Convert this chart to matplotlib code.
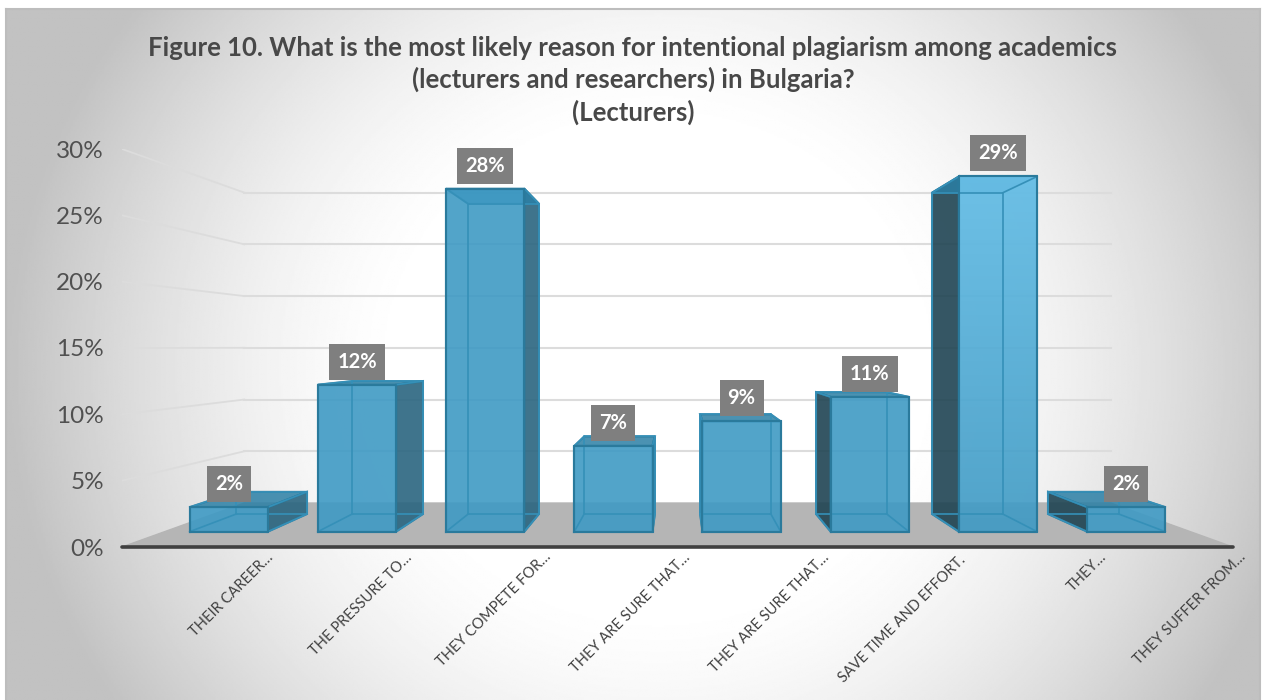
import matplotlib
matplotlib.use("Agg")
import matplotlib.pyplot as plt
from matplotlib.transforms import ScaledTranslation
import numpy as np

plt.rcParams['font.family'] = ['Lato', 'DejaVu Sans']

labels = ["THEIR CAREER…", "THE PRESSURE TO…", "THEY COMPETE FOR…", "THEY ARE SURE THAT…",
          "THEY ARE SURE THAT…", "SAVE TIME AND EFFORT. ", "THEY…", "THEY SUFFER FROM…"]
values = [2, 12, 28, 7, 9, 11, 29, 2]
y_ticks = [0, 5, 10, 15, 20, 25, 30]

W, H = 1263, 700
# perspective: depth 1 = front of the floor, smaller = further back
VP_X, VP_Y = 3.5, 15.07
WALL, BAR_FRONT, BAR_BACK = 0.78, 0.923, 0.835
HALF_W = 0.305
BLUE = "#3f9ac4"
EDGE = "#2a7a9c"
INNER = "#3590b8"


def project(x, depth, v):
    return VP_X + (x - VP_X) * depth, VP_Y + (v - VP_Y) * depth


def face(ax, pts, color, alpha, z, edge=EDGE):
    xy = [project(*p) for p in pts]
    ax.fill(*zip(*xy), facecolor=color, edgecolor=edge, alpha=alpha, lw=1.5, zorder=z, clip_on=False)


def outline(ax, pts, color, z, lw=1.2):
    xy = [project(*p) for p in pts]
    ax.plot(*zip(*xy), color=color, lw=lw, zorder=z, clip_on=False)


fig = plt.figure(figsize=(W / 100, H / 100), dpi=100)

# background gradient
bg = fig.add_axes([6 / W, 0, (1260 - 6) / W, 1 - 9 / H])
bg.set_xticks([])
bg.set_yticks([])
for side in ["top", "left", "right"]:
    bg.spines[side].set_color("#bdbdbd")
    bg.spines[side].set_linewidth(1.5)
bg.spines["bottom"].set_visible(False)
yy, xx = np.mgrid[0:1:400j, 0:1:700j]
dist = np.sqrt(((xx - 0.52) / 0.5) ** 2 + ((yy - 0.52) / 0.85) ** 2)
shade = np.clip(1.0 - 0.47 * np.clip(dist - 0.4, 0, None) ** 1.5, 0.76, 1)
bg.imshow(shade, cmap="gray", vmin=0, vmax=1, aspect="auto", origin="upper")

ax = fig.add_axes([122 / W, 1 - 547 / H, (1233 - 122) / W, (547 - 149) / H])
ax.patch.set_alpha(0)
for sp in ax.spines.values():
    sp.set_visible(False)

# floor
floor_xy = [project(-0.5, 1, 0), project(7.5, 1, 0), project(7.5, WALL, 0), project(-0.5, WALL, 0)]
ax.fill(*zip(*floor_xy), color="#b5b5b5", zorder=1)
ax.plot([-0.5, 7.5], [0, 0], color="#404040", lw=2.6, solid_capstyle="round", zorder=2, clip_on=False)

# gridlines on the back and the left wall
for v in y_ticks[1:]:
    p0 = project(-0.5, 1, v)
    p1 = project(-0.5, WALL, v)
    p2 = project(7.5, WALL, v)
    ax.plot([p0[0], p1[0]], [p0[1], p1[1]], color="#dcdcdc", lw=1.3, zorder=1)
    ax.plot([p1[0], p2[0]], [p1[1], p2[1]], color="#dcdcdc", lw=1.5, zorder=1)

# bars, back to front
for i, v in enumerate(values):
    l, r = i - HALF_W, i + HALF_W
    f, b = BAR_FRONT, BAR_BACK
    if r < VP_X:
        face(ax, [(r, f, 0), (r, b, 0), (r, b, v), (r, f, v)], "#2a6580", 0.9, 4)
    elif l > VP_X:
        face(ax, [(l, f, 0), (l, b, 0), (l, b, v), (l, f, v)], "#1f4453", 0.9, 4)
    face(ax, [(l, f, v), (r, f, v), (r, b, v), (l, b, v)], "#2b7fa5", 0.85, 4)
    face(ax, [(l, f, 0), (r, f, 0), (r, f, v), (l, f, v)], BLUE, 0.9, 5)

    # the tallest bar is lit from above
    if v == max(values):
        x0, y0 = project(l, f, v)
        x1, y1 = project(r, f, 0)
        glow = np.zeros((100, 2, 4))
        glow[..., :3] = matplotlib.colors.to_rgb("#80d4fa")
        glow[..., 3] = np.linspace(0.6, 0, 100)[:, None]
        ax.imshow(glow, extent=(x0, x1, y1, y0), aspect="auto", origin="upper", zorder=5.1)

    # edges that show through the front
    outline(ax, [(l, b, 0), (r, b, 0), (r, b, v), (l, b, v), (l, b, 0)], INNER, 5.2)
    outline(ax, [(l, f, 0), (l, b, 0)], INNER, 5.2)
    outline(ax, [(r, f, 0), (r, b, 0)], INNER, 5.2)
    outline(ax, [(l, f, v), (l, b, v)], INNER, 5.2)
    outline(ax, [(r, f, v), (r, b, v)], INNER, 5.2)
    outline(ax, [(l, f, 0), (r, f, 0), (r, f, v), (l, f, v), (l, f, 0)], EDGE, 5.3, lw=1.5)

    ax.annotate("%d%%" % v, project(i, BAR_FRONT, v), xytext=(0, 16.6), textcoords="offset points",
                ha="center", va="center", color="white", fontsize=14.5, fontweight="bold", zorder=7,
                bbox=dict(boxstyle="square,pad=0.4", facecolor="#7f7f7f", edgecolor="none"))

ax.set_yticks(y_ticks, ["%d%%" % v for v in y_ticks])
ax.set_xticks(np.arange(8), labels, rotation=45, ha="right", rotation_mode="anchor")
ax.tick_params(axis="y", length=0, pad=13, labelsize=17.5, labelcolor="#505050")
ax.tick_params(axis="x", length=0, pad=2.2, labelsize=10.5, labelcolor="#404040")
ax.set_xlim(-0.5, 7.5)
ax.set_ylim(0, 30)

# category labels end to the right of their bar
shift = ScaledTranslation(75 / 100, 0, fig.dpi_scale_trans)
for lab in ax.get_xticklabels():
    lab.set_transform(lab.get_transform() + shift)

fig.text(633 / W, 1 - 36 / H,
         "Figure 10. What is the most likely reason for intentional plagiarism among academics\n"
         "(lecturers and researchers) in Bulgaria?\n(Lecturers)",
         ha="center", va="top", color="#484848", fontsize=18.5, fontweight="bold", linespacing=1.33)

fig.savefig("out.png", dpi=100)
